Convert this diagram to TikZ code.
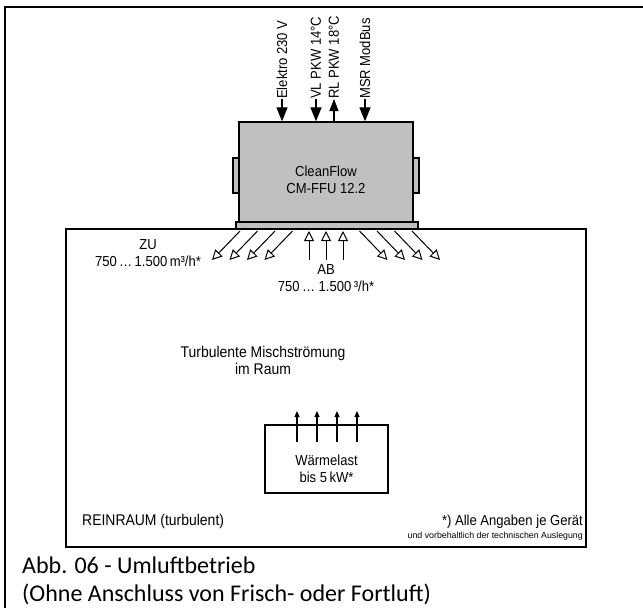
\documentclass[tikz,border=0pt]{standalone}
\usepackage{fontspec}
\setmainfont{Liberation Sans}
\newfontfamily\narrowsans{Liberation Sans}[FakeStretch=0.9]
\newfontfamily\capfont{Carlito}
\usetikzlibrary{arrows.meta}
\definecolor{unitgray}{RGB}{192,192,192}
\begin{document}
\begin{tikzpicture}[x=1pt,y=-1pt,
  lbl/.style={font=\narrowsans\fontsize{14.5}{17}\selectfont, inner sep=0pt, align=center},
  roomlbl/.style={font=\narrowsans\fontsize{15.5}{17}\selectfont, inner sep=0pt, align=center},
  smalllbl/.style={font=\fontsize{8.8}{11}\selectfont, inner sep=0pt},
  caplbl/.style={font=\capfont\fontsize{24}{30}\selectfont, inner sep=0pt, anchor=base west},
  frameline/.style={line width=1.5pt},
  graybox/.style={draw, line width=1.3pt, fill=unitgray, inner sep=0pt},
  plainbox/.style={draw, line width=1.3pt, inner sep=0pt},
  feedarrow/.style={line width=1.2pt, -{Triangle[length=14pt,width=11pt]}},
  returnarrow/.style={line width=1.2pt, -{Triangle[length=12pt,width=9pt]}},
  airarrow/.style={line width=1pt, -{Triangle[open,length=10pt,width=10pt,line width=1pt]}},
  heatarrow/.style={line width=1.2pt, -{Triangle[length=6pt,width=5pt]}},
]
\useasboundingbox (0,0) rectangle (643,608);

% outer frame
\coordinate (fbl) at (5,610);
\coordinate (ftl) at (5,7);
\coordinate (ftr) at (645,7);
\draw[frameline] (fbl) -- (ftl) -- (ftr);

% room
\node[plainbox, minimum width=520pt, minimum height=318pt] (room) at (326,388) {};

% unit with flanges and base plate
\node[graybox, minimum width=6pt, minimum height=35pt] (flL) at (236,175.5) {};
\node[graybox, minimum width=6pt, minimum height=35pt] (flR) at (416,175.5) {};
\node[graybox, minimum width=174pt, minimum height=100pt] (unit) at (326,172) {};
\node[graybox, minimum width=182pt, minimum height=7pt] (base) at (327,225.5) {};
\node[lbl] (unittxt) at (326,180) {CleanFlow\\CM-FFU 12.2};

% supply lines on top
\node[lbl, rotate=90, anchor=west] (elektro) at (282,99) {Elektro 230 V};
\node[lbl, rotate=90, anchor=west] (vl) at (316,99) {VL PKW 14°C};
\node[lbl, rotate=90, anchor=west] (rl) at (334,99) {RL PKW 18°C};
\node[lbl, rotate=90, anchor=west] (msr) at (365,99) {MSR ModBus};
\draw[feedarrow] (elektro.west) -- (elektro.west |- unit.north);
\draw[feedarrow] (vl.west) -- (vl.west |- unit.north);
\draw[returnarrow] (rl.west |- unit.north) -- (rl.west);
\draw[feedarrow] (msr.west) -- (msr.west |- unit.north);

% supply air (ZU) diagonals and right-hand outlets
\foreach \i in {0,...,3} {
  \coordinate (zs\i) at ({240+17.5*\i},231);
  \coordinate (ze\i) at ({212+17.5*\i},260);
  \draw[airarrow] (zs\i) -- (ze\i);
  \coordinate (rs\i) at ({359.5+17.5*\i},231);
  \coordinate (re\i) at ({387.5+17.5*\i},260);
  \draw[airarrow] (rs\i) -- (re\i);
}
% return air (AB)
\foreach \x [count=\j] in {309,326,343} {
  \coordinate (as\j) at (\x,260);
  \coordinate (ae\j) at (\x,231);
  \draw[airarrow] (as\j) -- (ae\j);
}

\node[lbl] (zu) at (148,253.5) {ZU\\750\,…\,1.500\,m³/h*};
\node[lbl] (ab) at (326,278) {AB\\750\,… 1.500\,³/h*};

\node[roomlbl] (turb) at (263,360.5) {Turbulente Mischströmung\\im Raum};

% heat load
\node[plainbox, minimum width=123pt, minimum height=68pt] (load) at (326.5,459) {};
\node[lbl] (loadtxt) at (326.5,468.5) {Wärmelast\\bis 5\,kW*};
\foreach \x [count=\k] in {297,317,337,357} {
  \coordinate (ls\k) at (\x,442);
  \coordinate (le\k) at (\x,411);
  \draw[heatarrow] (ls\k) -- (le\k);
}

\node[roomlbl, anchor=west] (rein) at (82,521) {REINRAUM (turbulent)};
\node[lbl, anchor=east] (note1) at (583,522) {*) Alle Angaben je Gerät};
\node[smalllbl, anchor=east] (note2) at (583,536) {und vorbehaltlich der technischen Auslegung};

\node[caplbl] (cap1) at (22,573) {Abb. 06 - Umluftbetrieb};
\node[caplbl] (cap2) at (22,601) {(Ohne Anschluss von Frisch- oder Fortluft)};
\end{tikzpicture}
\end{document}
